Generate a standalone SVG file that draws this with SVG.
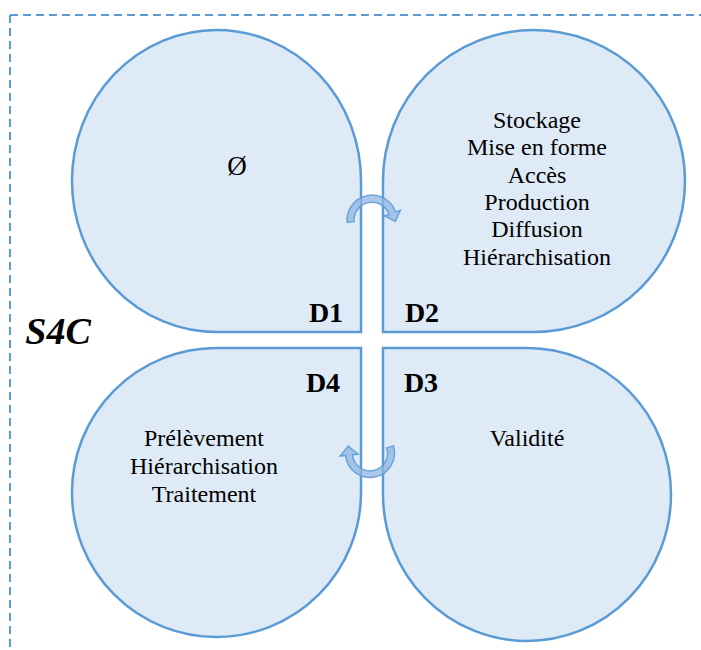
<svg xmlns="http://www.w3.org/2000/svg" width="701" height="650" viewBox="0 0 701 650">
<style>
.shape{fill:#deebf7;stroke:#5b9bd5;stroke-width:2.5}
.t{font-family:"Liberation Serif","Times New Roman",serif;font-size:24px;font-weight:normal;fill:#000;text-anchor:middle}
.lbl{font-family:"Liberation Serif","Times New Roman",serif;font-size:28px;font-weight:bold;fill:#000;text-anchor:middle}
.arrow{fill:#8fb4e3;fill-opacity:0.75;stroke:#5b9bd5;stroke-width:1.5;stroke-opacity:0.85}
.border{fill:none;stroke:#5b9bd5;stroke-width:2;stroke-dasharray:8 5}
</style>
<rect width="701" height="650" fill="#fff"/>
<path class="border" d="M10 15 H701 M10 15 V650"/>
<text x="58" y="344" font-family="Liberation Serif, Times New Roman, serif" font-size="38" font-weight="bold" font-style="italic" text-anchor="middle">S4C</text>
<g id="D1">
<path class="shape" d="M361 332 L216.5 332 A144.5 151 0 1 1 361 181 Z"/>
<text class="t" x="237" y="175" style="font-size:27px">Ø</text>
<text class="lbl" x="326" y="322">D1</text>
</g>
<g id="D2">
<path class="shape" d="M383 332 L383 181 A151 151 0 1 1 534 332 Z"/>
<text class="t" x="537" y="128">Stockage</text>
<text class="t" x="537" y="155">Mise en forme</text>
<text class="t" x="537" y="183">Accès</text>
<text class="t" x="537" y="210">Production</text>
<text class="t" x="537" y="237">Diffusion</text>
<text class="t" x="537" y="265">Hiérarchisation</text>
<text class="lbl" x="422" y="322">D2</text>
</g>
<g id="D4">
<path class="shape" d="M361 348 L361 492.5 A144.5 144.5 0 1 1 216.5 348 Z"/>
<text class="t" x="204" y="446">Prélèvement</text>
<text class="t" x="204" y="474">Hiérarchisation</text>
<text class="t" x="204" y="502">Traitement</text>
<text class="lbl" x="323" y="392">D4</text>
</g>
<g id="D3">
<path class="shape" d="M383 348 L527 348 A144 146.5 0 1 1 383 494.5 Z"/>
<text class="t" x="527" y="446">Validité</text>
<text class="lbl" x="421" y="392">D3</text>
</g>
<g id="connectors">
<path class="arrow" d="M347.1 222.4 A25 25 0 0 1 395.6 211.9 L400.4 210.3 L395.4 221.5 L384.3 215.8 L389 214.2 A18 18 0 0 0 354.1 221.7 Z"/>
<path class="arrow" d="M393.4 445.8 A24.5 24.5 0 1 1 345.6 455.4 L340.1 456 L348.2 446.1 L358.1 454.2 L352.6 454.7 A17.5 17.5 0 1 0 386.7 447.9 Z"/>
</g>
</svg>
